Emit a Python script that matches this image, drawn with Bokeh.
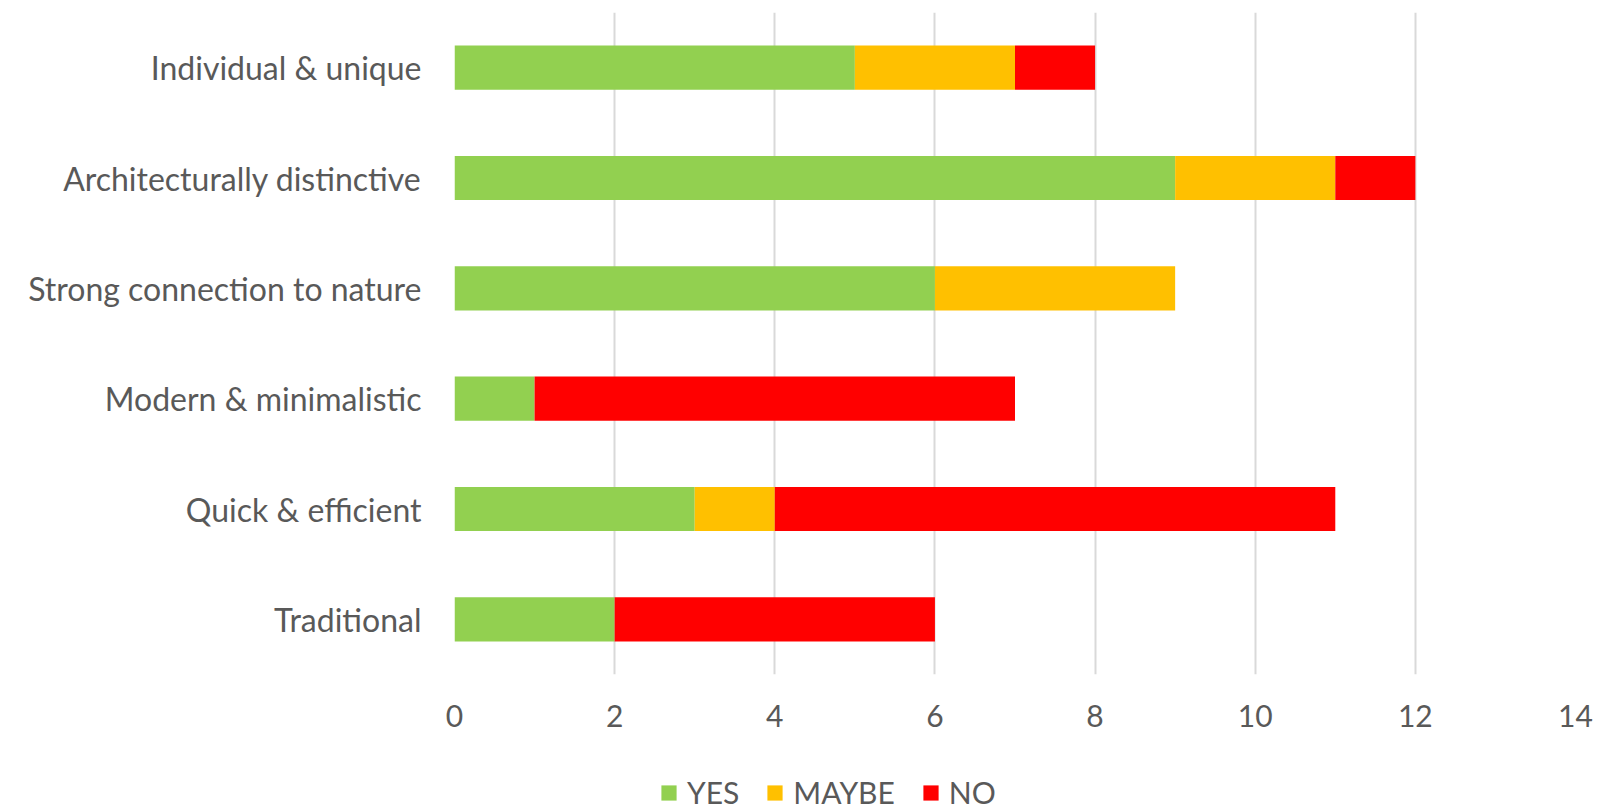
from bokeh.plotting import figure
from bokeh.layouts import column
from bokeh.models import (FactorRange, Range1d, Legend, LegendItem, ColumnDataSource,
                          SingleIntervalTicker)
from bokeh.embed import file_html
from bokeh.resources import INLINE

categories = ["Individual & unique", "Architecturally distinctive", "Strong connection to nature",
              "Modern & minimalistic", "Quick & efficient", "Traditional"]
yes = [5, 9, 6, 1, 3, 2]
maybe = [2, 2, 3, 0, 1, 0]
no = [1, 1, 0, 6, 7, 4]
series = ["YES", "MAYBE", "NO"]
colors = ["#92D050", "#FFC000", "#FF0000"]

src = ColumnDataSource(dict(cat=categories, YES=yes, MAYBE=maybe, NO=no))

FONT = "Lato"
TXT = "#595959"

p = figure(width=1618, height=745, output_backend="svg", toolbar_location=None,
           y_range=FactorRange(factors=list(reversed(categories))),
           x_range=Range1d(0, 14),
           min_border_left=454, min_border_right=43, min_border_top=12, min_border_bottom=71)

rs = p.hbar_stack(series, y="cat", height=0.40, color=colors, source=src, line_color=None)

p.outline_line_color = None
p.ygrid.grid_line_color = None
p.xgrid.grid_line_color = "#D9D9D9"
p.xgrid.grid_line_width = 2
p.xaxis.ticker = SingleIntervalTicker(interval=2)

for ax in (p.xaxis[0], p.yaxis[0]):
    ax.axis_line_color = None
    ax.major_tick_line_color = None
    ax.minor_tick_line_color = None
    ax.major_tick_in = 0
    ax.major_tick_out = 0
    ax.minor_tick_out = 0
    ax.major_label_text_font = FONT
    ax.major_label_text_color = TXT

p.yaxis.major_label_text_font_size = "32px"
p.xaxis.major_label_text_font_size = "30px"
p.yaxis.major_label_standoff = 33
p.xaxis.major_label_standoff = 30

# legend strip below the chart (same series; the bars themselves are hidden here)
lg = figure(width=1618, height=65, output_backend="svg", toolbar_location=None,
            x_range=Range1d(0, 14), y_range=FactorRange(factors=list(reversed(categories))),
            x_axis_location=None, y_axis_location=None,
            min_border_left=454, min_border_right=43, min_border_top=0, min_border_bottom=0)
lg.outline_line_color = None
lg.grid.grid_line_color = None
lrs = lg.hbar_stack(series, y="cat", height=0.40, color=colors, source=src, line_color=None)
for r in lrs:
    r.visible = False

legend = Legend(items=[LegendItem(label=s, renderers=[r]) for s, r in zip(series, lrs)],
                orientation="horizontal", location=(205, 0), click_policy="none",
                label_text_font=FONT, label_text_font_size="30px", label_text_color=TXT,
                glyph_width=19, glyph_height=19, label_standoff=9, spacing=26,
                inactive_fill_alpha=0,
                border_line_color=None, background_fill_alpha=0, padding=0, margin=0)
lg.add_layout(legend, "center")

layout = column(p, lg, spacing=0)
open("out.html", "w").write(file_html(layout, INLINE))
